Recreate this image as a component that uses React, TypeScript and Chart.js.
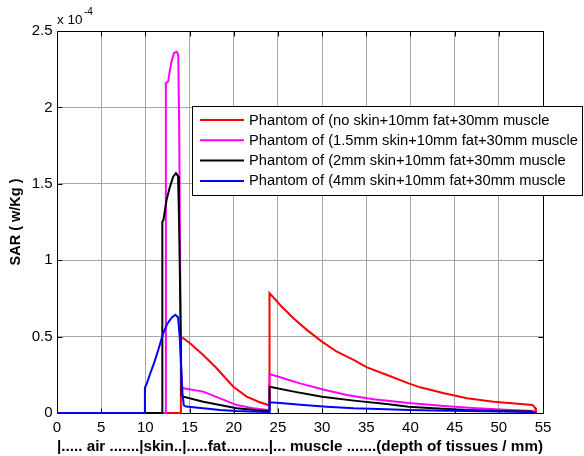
import React, { useEffect, useRef } from 'react';
import { Chart, registerables } from 'chart.js';

Chart.register(...registerables);

const FONT = 'Arial, "Liberation Sans", sans-serif';

const seriesLabels = [
  'Phantom of (no skin+10mm fat+30mm muscle',
  'Phantom of (1.5mm skin+10mm fat+30mm muscle',
  'Phantom of (2mm skin+10mm fat+30mm muscle',
  'Phantom of (4mm skin+10mm fat+30mm muscle',
];
const seriesColors = ['#ff0000', '#ff00ff', '#000000', '#0000ff'];

// SAR values in units of 1e-4 W/kg, depth in mm
const noSkinX = [0, 14.02, 14.02, 14.29, 15.05, 16.55, 18.07, 19.95, 21.47, 22.8, 23.9, 24.05, 24.05, 25.25, 26.76, 28.27, 29.98, 31.68, 33.56, 35.08, 37.35, 39.8, 41.1, 43.8, 46.4, 49.4, 52.5, 53.8, 54.1, 54.2];
const noSkinY = [0, 0, 0.49, 0.489, 0.456, 0.38, 0.293, 0.172, 0.107, 0.074, 0.052, 0.05, 0.784, 0.707, 0.62, 0.544, 0.467, 0.401, 0.347, 0.299, 0.249, 0.194, 0.168, 0.129, 0.096, 0.074, 0.059, 0.052, 0.035, 0];

const skin15X = [0, 12.32, 12.32, 12.59, 12.78, 12.97, 13.23, 13.54, 13.72, 13.83, 13.92, 14.05, 14.29, 16.55, 18.45, 20.34, 22.2, 23.9, 24.05, 24.05, 25.25, 27.5, 30, 32.8, 35.8, 39.8, 43.8, 47.5, 51.3, 53.8, 54.1];
const skin15Y = [0, 0, 2.159, 2.17, 2.246, 2.3, 2.356, 2.364, 2.344, 1.875, 1.1, 0.17, 0.162, 0.14, 0.096, 0.052, 0.031, 0.02, 0.02, 0.255, 0.234, 0.194, 0.155, 0.118, 0.09, 0.065, 0.046, 0.031, 0.02, 0.013, 0];

const skin2X = [0, 11.92, 11.92, 12.05, 12.4, 12.78, 13.15, 13.46, 13.7, 13.8, 13.9, 14.0, 14.1, 14.29, 16.55, 18.45, 20.34, 23.35, 24.05, 24.05, 26.8, 30, 33.6, 37.3, 39.8, 42.6, 46.4, 50.2, 53.8, 54.1];
const skin2Y = [0, 0, 1.25, 1.265, 1.395, 1.48, 1.547, 1.57, 1.55, 1.3, 0.94, 0.5, 0.118, 0.107, 0.074, 0.052, 0.031, 0.015, 0.012, 0.172, 0.14, 0.107, 0.081, 0.059, 0.041, 0.031, 0.02, 0.013, 0.01, 0];

const skin4X = [0, 9.95, 9.95, 10.15, 10.5, 11, 11.5, 12, 12.5, 13, 13.4, 13.7, 13.9, 14.05, 14.2, 14.35, 14.6, 16.55, 18.45, 20.3, 23.6, 24.05, 24.05, 25.25, 27.9, 30.5, 33.6, 37.3, 39.8, 42.6, 46.4, 50, 53.8, 54.1];
const skin4Y = [0, 0, 0.165, 0.19, 0.25, 0.33, 0.42, 0.52, 0.585, 0.625, 0.643, 0.625, 0.49, 0.3, 0.13, 0.05, 0.042, 0.031, 0.02, 0.013, 0.007, 0.006, 0.07, 0.065, 0.052, 0.041, 0.031, 0.024, 0.02, 0.016, 0.013, 0.01, 0.007, 0];

const seriesX = [noSkinX, skin15X, skin2X, skin4X];
const seriesY = [noSkinY, skin15Y, skin2Y, skin4Y];

const xTicks = [0, 5, 10, 15, 20, 25, 30, 35, 40, 45, 50, 55];
const yTicks = [0, 0.5, 1, 1.5, 2, 2.5];
const xTitle = '|..... air .......|skin..|.....fat..........|... muscle .......(depth of tissues / mm)';
const yTitle = 'SAR ( w/Kg )';
const expBase = 'x 10';
const expPower = '-4';

const decorPlugin = {
  id: 'decor',
  beforeDatasetsDraw(chart: any) {
    const { ctx, chartArea, scales } = chart;
    const { left, right, top, bottom } = chartArea;
    const L = Math.round(left) + 0.5;
    const R = Math.round(right) + 0.5;
    const T = Math.round(top) + 0.5;
    const B = Math.round(bottom) + 0.5;
    ctx.save();
    ctx.strokeStyle = '#000';
    ctx.lineWidth = 1;
    ctx.strokeRect(L, T, R - L, B - T);
    const tl = 5;
    ctx.beginPath();
    for (const v of xTicks) {
      const px = Math.round(scales.x.getPixelForValue(v)) + 0.5;
      ctx.moveTo(px, B);
      ctx.lineTo(px, B - tl);
      ctx.moveTo(px, T);
      ctx.lineTo(px, T + tl);
    }
    for (const v of yTicks) {
      const py = Math.round(scales.y.getPixelForValue(v)) + 0.5;
      ctx.moveTo(L, py);
      ctx.lineTo(L + tl, py);
      ctx.moveTo(R, py);
      ctx.lineTo(R - tl, py);
    }
    ctx.stroke();
    ctx.restore();
  },
  afterDraw(chart: any) {
    const { ctx, chartArea } = chart;
    ctx.save();
    // exponent label
    ctx.fillStyle = '#000';
    ctx.textBaseline = 'alphabetic';
    ctx.textAlign = 'left';
    ctx.font = `13.5px ${FONT}`;
    const ex = chartArea.left;
    ctx.fillText(expBase, ex, 23.5);
    const w = ctx.measureText(expBase).width;
    ctx.font = `10px ${FONT}`;
    ctx.fillText(expPower, ex + w + 1.5, 15);

    // legend box
    const bx = 192.5, by = 106.5, bw = 390, bh = 89;
    ctx.fillStyle = '#fff';
    ctx.fillRect(bx, by, bw, bh);
    ctx.strokeStyle = '#000';
    ctx.lineWidth = 1;
    ctx.strokeRect(bx, by, bw, bh);
    ctx.font = `14.7px ${FONT}`;
    ctx.textBaseline = 'middle';
    chart.data.datasets.forEach((ds: any, i: number) => {
      const yy = 120 + i * 20.3;
      ctx.strokeStyle = ds.borderColor;
      ctx.lineWidth = 2;
      ctx.beginPath();
      ctx.moveTo(200, yy);
      ctx.lineTo(244, yy);
      ctx.stroke();
      ctx.fillStyle = '#000';
      ctx.fillText(ds.label, 249, yy + 0.5);
    });
    ctx.restore();
  },
};

export default function App() {
  const canvasRef = useRef<HTMLCanvasElement | null>(null);

  useEffect(() => {
    const canvas = canvasRef.current;
    if (!canvas) return;
    const datasets = seriesLabels.map((label, i) => ({
      label,
      data: seriesX[i].map((x, j) => ({ x, y: seriesY[i][j] })),
      borderColor: seriesColors[i],
      backgroundColor: seriesColors[i],
      borderWidth: 2,
      pointRadius: 0,
      tension: 0,
      fill: false,
      clip: false as any,
      order: seriesLabels.length - 1 - i,
    }));
    const gridColor = '#a6a6a6';
    const chart = new Chart(canvas, {
      type: 'line',
      data: { datasets },
      plugins: [decorPlugin],
      options: {
        responsive: false,
        animation: false,
        devicePixelRatio: 1,
        layout: { padding: { left: 0, top: 31, right: 41, bottom: 0 } },
        plugins: {
          legend: { display: false },
          tooltip: { enabled: false },
          title: { display: false },
        },
        scales: {
          x: {
            type: 'linear',
            min: 0,
            max: 55,
            afterBuildTicks: (s: any) => {
              s.ticks = xTicks.map((v) => ({ value: v }));
            },
            afterFit: (s: any) => {
              s.height = 43;
            },
            ticks: {
              callback: (v: any) => String(v),
              font: { family: FONT, size: 15 },
              color: '#000',
              padding: 6,
              maxRotation: 0,
              autoSkip: false,
            },
            grid: { color: gridColor, drawTicks: false, lineWidth: 1 },
            border: { display: false },
            title: {
              display: true,
              text: xTitle,
              font: { family: FONT, size: 15.3, weight: 'bold' },
              color: '#000',
              padding: { top: 0, bottom: 0 },
            },
          },
          y: {
            type: 'linear',
            min: 0,
            max: 2.5,
            afterBuildTicks: (s: any) => {
              s.ticks = yTicks.map((v) => ({ value: v }));
            },
            afterFit: (s: any) => {
              s.width = 57;
            },
            ticks: {
              callback: (v: any) => String(v),
              font: { family: FONT, size: 15 },
              color: '#000',
              padding: 4.5,
              autoSkip: false,
            },
            grid: { color: gridColor, drawTicks: false, lineWidth: 1 },
            border: { display: false },
            title: {
              display: true,
              text: yTitle,
              font: { family: FONT, size: 14.5, weight: 'bold' },
              color: '#000',
              padding: { top: 7, bottom: 0 },
            },
          },
        },
      } as any,
    });
    return () => chart.destroy();
  }, []);

  return (
    <div style={{ position: 'absolute', left: 0, top: 0, width: 584, height: 456, background: '#fff' }}>
      <canvas ref={canvasRef} width={584} height={456} style={{ display: 'block', width: 584, height: 456 }} />
    </div>
  );
}
